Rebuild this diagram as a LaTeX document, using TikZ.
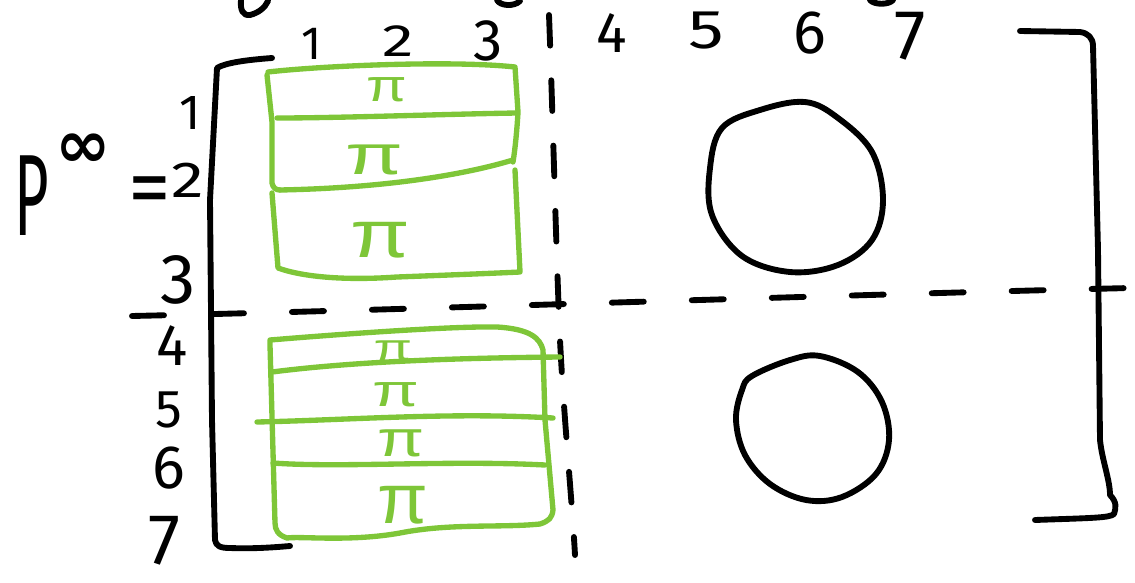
\documentclass[tikz,border=0pt]{standalone}
\usepackage{graphicx}
\usepackage{fontspec}
\setmainfont{Fira Sans}
\newfontfamily\sym{DejaVu Sans}
\newfontfamily\pifont{Liberation Sans}
\definecolor{leaf}{RGB}{126,198,56}
\begin{document}
\begin{tikzpicture}[x=0.75pt,y=-0.75pt,
  ink/.style={line width=4.4pt, line cap=round, line join=round},
  grn/.style={line width=4pt, line cap=round, line join=round, draw=leaf},
  lab/.style={font=\fontsize{#1}{#1}\selectfont, inner sep=0pt},
  pilab/.style={text=leaf, font=\pifont\fontsize{#1}{#1}\selectfont, inner sep=0pt}]
\useasboundingbox (0,0) rectangle (1135,582);

% cut-off strokes at the top edge
\draw[ink] (241,0) .. controls (240,10) and (243,16) .. (250,15) .. controls (258,13) and (265,8) .. (268,1);
\draw[ink] (497,0) .. controls (500,6) and (514,7) .. (520,1);
\draw[ink] (870,0) .. controls (874,5) and (889,5) .. (893,0);

% left side label
\node[inner sep=0pt, font=\fontsize{62}{62}\selectfont] (P) at (32,196) {\scalebox{0.72}[1.4]{P}};
\node[inner sep=0pt, font=\sym\bfseries\fontsize{50}{50}\selectfont] (inf) at (83,151) {∞};
\node[inner sep=0pt, font=\fontsize{40}{40}\selectfont] (eq) at (150,197) {\scalebox{1.6}[1.6]{=}};

% column labels
\node[lab=35] (c1) at (312,44) {1};
\node[lab=34] (c2) at (398,41) {\scalebox{1.4}[1]{2}};
\node[lab=44] (c3) at (488,41) {3};
\node[lab=43] (c4) at (612,33) {4};
\node[lab=41] (c5) at (706,31) {\scalebox{1.3}[1]{5}};
\node[lab=46] (c6) at (810,33) {6};
\node[lab=53] (c7) at (910,36) {7};

% row labels
\node[lab=37] (r1) at (190,113) {1};
\node[lab=38] (r2) at (188,180) {\scalebox{1.3}[1]{2}};
\node[lab=53] (r3) at (178,280) {3};
\node[lab=44] (r4) at (172,346) {4};
\node[lab=40] (r5) at (169,410) {5};
\node[lab=46] (r6) at (169,468) {6};
\node[lab=54] (r7) at (164,541) {7};

% brackets
\draw[ink] (272,58) .. controls (245,60) and (225,63) .. (217,68) -- (210,200) -- (212,420) -- (215,540) .. controls (216,546) and (220,548) .. (230,548) .. controls (255,549) and (278,547) .. (290,546);
\draw[ink] (1020,31) -- (1080,32) .. controls (1088,33) and (1093,38) .. (1093,46) -- (1098,250) -- (1100,440) .. controls (1102,460) and (1110,480) .. (1110,495) .. controls (1117,502) and (1116,508) .. (1114,514) .. controls (1110,518) and (1090,518) .. (1035,520);

% dashed partition lines
\draw[ink, dash pattern=on 23pt off 26pt] (549,15) .. controls (553,120) and (556,250) .. (560,340) .. controls (564,420) and (572,500) .. (575,555);
\draw[ink, dash pattern=on 24pt off 36pt] (132,316) .. controls (400,310) and (800,296) .. (1130,288);

% circles
\draw[ink] plot[smooth cycle, tension=0.6] coordinates {(722,128) (760,110) (805,102) (838,118) (872,152) (883,200) (872,240) (838,265) (790,272) (742,256) (712,215) (710,168)};
\draw[ink] plot[smooth cycle, tension=0.6] coordinates {(752,376) (790,360) (820,356) (858,372) (882,402) (889,440) (876,474) (842,497) (806,500) (770,484) (745,455) (736,420) (742,390)};

% upper green group
\draw[grn] (268,72) .. controls (320,66) and (450,60) .. (515,67) -- (518,112) .. controls (517,130) and (515,150) .. (513,162);
\draw[grn] (267,75) -- (272,122) -- (272,183) .. controls (273,188) and (276,190) .. (280,190);
\draw[grn] (277,118) .. controls (340,118) and (450,114) .. (517,113);
\draw[grn] (280,190) .. controls (380,188) and (460,176) .. (513,160);
\draw[grn] (272,193) -- (278,268) .. controls (300,276) and (340,281) .. (397,277) .. controls (450,275) and (500,273) .. (520,272) -- (515,170);
\node[pilab=34] (p1) at (387,90) {\scalebox{1.3}[1]{π}};
\node[pilab=42] (p2) at (374,160) {\scalebox{1.5}[1]{π}};
\node[pilab=50] (p3) at (380,240) {\scalebox{1.3}[1]{π}};

% lower green group
\draw[grn] (270,340) .. controls (330,335) and (450,326) .. (497,327) .. controls (530,329) and (540,338) .. (543,350) -- (545,420) -- (553,510) .. controls (552,518) and (549,521) .. (540,524) .. controls (500,528) and (450,523) .. (400,533) .. controls (350,542) and (300,536) .. (287,538) .. controls (278,535) and (275,530) .. (275,523) -- (270,345) -- cycle;
\draw[grn] (272,372) .. controls (350,362) and (450,358) .. (560,357);
\draw[grn] (257,422) .. controls (350,420) and (450,412) .. (553,418);
\draw[grn] (273,463) .. controls (340,468) and (450,460) .. (545,465);
\node[pilab=28] (p4) at (393,351) {\scalebox{1.5}[1]{π}};
\node[pilab=34] (p5) at (396,395) {\scalebox{1.5}[1]{π}};
\node[pilab=38] (p6) at (401,443) {\scalebox{1.35}[1]{π}};
\node[pilab=48] (p7) at (403,505) {\scalebox{1.15}[1.1]{π}};
\end{tikzpicture}
\end{document}
